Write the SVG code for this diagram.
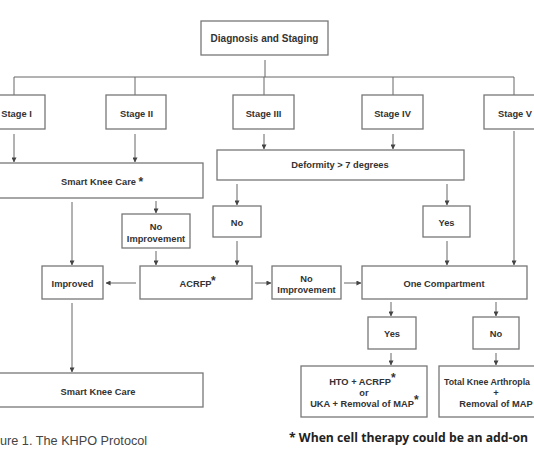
<svg xmlns="http://www.w3.org/2000/svg" width="534" height="462" viewBox="0 0 534 462">
<defs>
<marker id="ah" viewBox="0 0 6 6" refX="5.5" refY="3" markerWidth="5" markerHeight="5" markerUnits="userSpaceOnUse" orient="auto">
<path d="M0,0 L6,3 L0,6 Z" fill="#444"/>
</marker>
<style>
.box{fill:#fff;stroke:#777;stroke-width:1.3}
.t{font-family:"Liberation Sans",Arial,sans-serif;font-weight:bold;font-size:9.3px;fill:#333;text-anchor:middle}
.st{font-family:"Liberation Sans",Arial,sans-serif;font-weight:bold;font-size:12px;fill:#333}
.c{fill:none;stroke:#666;stroke-width:1}
.a{fill:none;stroke:#666;stroke-width:1;marker-end:url(#ah)}
</style>
</defs>
<rect width="534" height="462" fill="#fff"/>
<g id="connectors">
<path class="c" d="M265,60 V77 M14,95 V77 H514 V95 M135,77 V95 M264,77 V95 M393,77 V95"/>
<path class="a" d="M14,134 V162"/>
<path class="a" d="M135,134 V162"/>
<path class="a" d="M264,134 V149"/>
<path class="a" d="M393,134 V149"/>
<path class="a" d="M514,131 V265"/>
<path class="a" d="M72,202 V265"/>
<path class="a" d="M156,201 V213"/>
<path class="a" d="M156,251 V265"/>
<path class="a" d="M237,184 V205"/>
<path class="a" d="M237,241 V265"/>
<path class="a" d="M447,184 V205"/>
<path class="a" d="M447,241 V265"/>
<path class="a" d="M136,283 H106"/>
<path class="a" d="M255,283 H271"/>
<path class="a" d="M344,283 H361"/>
<path class="a" d="M391,302 V316"/>
<path class="a" d="M496,302 V316"/>
<path class="a" d="M391,353 V365"/>
<path class="a" d="M496,353 V365"/>
<path class="a" d="M72,303 V372"/>
</g>
<g id="diagnosis"><rect class="box" x="201" y="21" width="127" height="34"/><text class="t" x="264.5" y="41.5" style="font-size:10px">Diagnosis and Staging</text></g>
<g id="stage1"><rect class="box" x="-15" y="95" width="60" height="34"/><text class="t" x="16.5" y="116.5">Stage I</text></g>
<g id="stage2"><rect class="box" x="106" y="95" width="60" height="34"/><text class="t" x="136.5" y="116.5">Stage II</text></g>
<g id="stage3"><rect class="box" x="233" y="95" width="61" height="34"/><text class="t" x="263.5" y="116.5">Stage III</text></g>
<g id="stage4"><rect class="box" x="362" y="95" width="61" height="34"/><text class="t" x="392.5" y="116.5">Stage IV</text></g>
<g id="stage5"><rect class="box" x="484" y="95" width="61" height="34"/><text class="t" x="515" y="116.5">Stage V</text></g>
<g id="smartknee1"><rect class="box" x="-8" y="163" width="211" height="35"/><text class="t" x="98.5" y="185">Smart Knee Care</text><text class="st" x="138.5" y="186">*</text></g>
<g id="deformity"><rect class="box" x="217" y="150" width="247" height="30"/><text class="t" x="340" y="168">Deformity &gt; 7 degrees</text></g>
<g id="noimp1"><rect class="box" x="122" y="214" width="68" height="34"/><text class="t" x="156" y="229.5">No</text><text class="t" x="156" y="241.5">Improvement</text></g>
<g id="no1"><rect class="box" x="213" y="206" width="48" height="31"/><text class="t" x="237" y="225.5">No</text></g>
<g id="yes1"><rect class="box" x="423" y="206" width="47" height="31"/><text class="t" x="446.5" y="225.5">Yes</text></g>
<g id="improved"><rect class="box" x="42" y="266" width="61" height="33"/><text class="t" x="72.5" y="286.5">Improved</text></g>
<g id="acrfp"><rect class="box" x="140" y="266" width="112" height="33"/><text class="t" x="195.5" y="286.5">ACRFP</text><text class="st" x="211" y="284.5">*</text></g>
<g id="noimp2"><rect class="box" x="272" y="266" width="69" height="33"/><text class="t" x="306.5" y="281.5">No</text><text class="t" x="306.5" y="292.5">Improvement</text></g>
<g id="onecomp"><rect class="box" x="362" y="266" width="165" height="33"/><text class="t" x="444" y="286.5">One Compartment</text></g>
<g id="yes2"><rect class="box" x="368" y="317" width="48" height="32"/><text class="t" x="392" y="336.5">Yes</text></g>
<g id="no2"><rect class="box" x="473" y="317" width="46" height="32"/><text class="t" x="496" y="336.5">No</text></g>
<g id="hto"><rect class="box" x="301" y="366" width="126" height="51"/><text class="t" x="360" y="384.5">HTO + ACRFP</text><text class="st" x="391" y="382">*</text><text class="t" x="364" y="395.5">or</text><text class="t" x="362" y="406.5">UKA + Removal of MAP</text><text class="st" x="414" y="404">*</text></g>
<g id="tka"><rect class="box" x="439" y="366" width="120" height="51"/><text class="t" x="444" y="384.5" style="text-anchor:start" textLength="86" lengthAdjust="spacingAndGlyphs">Total Knee Arthropla</text><text class="t" x="496" y="395.5">+</text><text class="t" x="496" y="406.5">Removal of MAP</text></g>
<g id="smartknee2"><rect class="box" x="-8" y="373" width="211" height="34"/><text class="t" x="98" y="394.5">Smart Knee Care</text></g>
<text x="0" y="445" font-family="'Liberation Sans',Arial,sans-serif" font-size="12.7" fill="#444">ure 1. The KHPO Protocol</text>
<text x="289" y="442" font-family="'Open Sans','Noto Sans',sans-serif" font-weight="bold" font-size="12.4" fill="#222" textLength="239" lengthAdjust="spacingAndGlyphs">* When cell therapy could be an add-on</text>
</svg>
